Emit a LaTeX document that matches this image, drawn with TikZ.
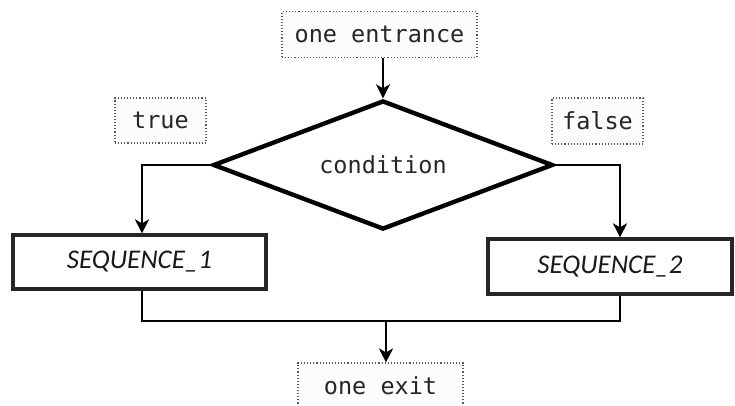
\documentclass[tikz,border=0pt]{standalone}
\usepackage{fontspec}
\setmonofont{DejaVu Sans Mono}
\newfontfamily\seqfont{Carlito}
\usetikzlibrary{shapes.geometric,arrows.meta}
\begin{document}
\begin{tikzpicture}[x=1pt,y=-1pt,
  lbl/.style={draw=black!65,dotted,line width=1.1pt,fill=black!1,inner sep=0pt,
    text=black!85,font=\fontsize{23.5}{27}\selectfont\ttfamily},
  seqbox/.style={draw=black!85,line width=3.2pt,fill=white,inner sep=0pt,
    text=black!90,font=\fontsize{27}{31}\selectfont\seqfont\itshape},
  decision/.style={diamond,draw=black,line width=4.4pt,inner sep=0pt,shape aspect=2.6,
    text=black!85,font=\fontsize{23.5}{27}\selectfont\ttfamily},
  wire/.style={draw=black,line width=2.6pt},
  flow/.style={wire,-{Stealth[length=14pt,width=14pt,inset=4pt]}}]
\useasboundingbox (0,0) rectangle (735,405);

% entry, decision and branch labels
\node[lbl,minimum width=195,minimum height=46] (entr) at (379.5,34.5) {one entrance};
\node[decision,minimum width=340,minimum height=129] (cond) at (383,165) {condition};
\node[lbl,minimum width=91,minimum height=45] (tlbl) at (160.5,120.5) {true};
\node[lbl,minimum width=91,minimum height=46] (flbl) at (597.5,121) {false};

% the two branches
\node[seqbox,minimum width=253,minimum height=54] (seq1) at (139.5,262) {SEQUENCE\_1};
\node[seqbox,minimum width=244,minimum height=55] (seq2) at (610,266.5) {SEQUENCE\_2};

% exit
\node[lbl,minimum width=165,minimum height=46] (exit) at (380.5,386) {one exit};

% connectors
\draw[flow] (cond.north |- entr.south) -- (cond.north);
\draw[flow] (cond.west) -| ([xshift=2.5pt]seq1.north);
\draw[flow] (cond.east) -| ([xshift=10pt]seq2.north);
\coordinate (join) at (386,321);
\draw[wire] ([xshift=2.5pt]seq1.south) |- (join) -| ([xshift=10pt]seq2.south);
\draw[flow] (join) -- (join |- exit.north);
\end{tikzpicture}
\end{document}
